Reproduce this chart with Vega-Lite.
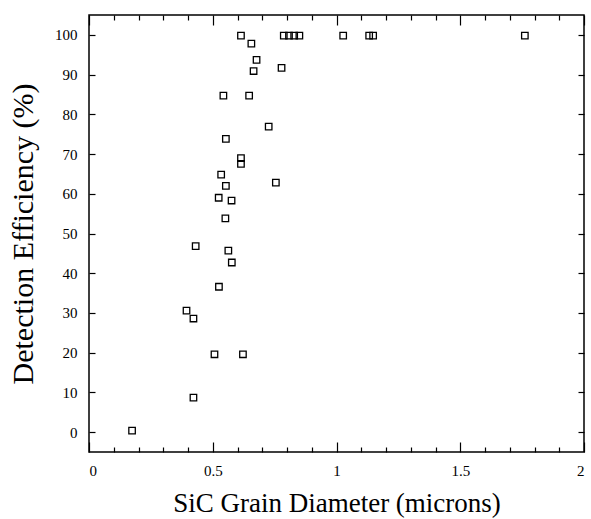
{
  "$schema": "https://vega.github.io/schema/vega-lite/v6.json",
  "width": 495,
  "height": 437,
  "autosize": {"type": "none"},
  "padding": {"left": 89, "top": 15, "right": 7, "bottom": 67},
  "config": {
    "view": {"stroke": "black", "strokeWidth": 1.5},
    "axis": {
      "grid": false,
      "domain": false,
      "labelFont": "Liberation Serif",
      "titleFont": "Liberation Serif",
      "labelColor": "black",
      "titleColor": "black",
      "tickColor": "black",
      "tickWidth": 1.2,
      "labelFontSize": 15,
      "titleFontWeight": "normal"
    }
  },
  "data": {
    "values": [
      {"d": 0.614, "eff": 99.8},
      {"d": 0.656, "eff": 97.8},
      {"d": 0.677, "eff": 93.7},
      {"d": 0.665, "eff": 90.9},
      {"d": 0.778, "eff": 91.7},
      {"d": 0.543, "eff": 84.7},
      {"d": 0.647, "eff": 84.7},
      {"d": 0.787, "eff": 99.8},
      {"d": 0.808, "eff": 99.8},
      {"d": 0.829, "eff": 99.8},
      {"d": 0.850, "eff": 99.8},
      {"d": 1.027, "eff": 99.8},
      {"d": 1.132, "eff": 99.8},
      {"d": 1.148, "eff": 99.8},
      {"d": 1.761, "eff": 99.8},
      {"d": 0.726, "eff": 76.9},
      {"d": 0.553, "eff": 73.8},
      {"d": 0.614, "eff": 69.0},
      {"d": 0.614, "eff": 67.5},
      {"d": 0.534, "eff": 64.8},
      {"d": 0.553, "eff": 62.0},
      {"d": 0.755, "eff": 62.8},
      {"d": 0.524, "eff": 59.0},
      {"d": 0.576, "eff": 58.3},
      {"d": 0.551, "eff": 53.8},
      {"d": 0.431, "eff": 46.8},
      {"d": 0.563, "eff": 45.7},
      {"d": 0.577, "eff": 42.7},
      {"d": 0.525, "eff": 36.6},
      {"d": 0.394, "eff": 30.6},
      {"d": 0.422, "eff": 28.6},
      {"d": 0.507, "eff": 19.6},
      {"d": 0.622, "eff": 19.6},
      {"d": 0.422, "eff": 8.7},
      {"d": 0.174, "eff": 0.4}
    ]
  },
  "layer": [
    {
      "mark": {"type": "point", "shape": "square", "filled": false, "size": 42, "stroke": "black", "strokeWidth": 1.3, "opacity": 1},
      "encoding": {
        "x": {
          "field": "d", "type": "quantitative",
          "scale": {"domain": [0, 2], "nice": false, "zero": false},
          "axis": {"orient": "bottom", "values": [0, 0.5, 1, 1.5, 2], "format": "~g", "offset": -10, "tickSize": 10, "labelPadding": 11, "title": "SiC Grain Diameter (microns)", "titleFontSize": 27, "titlePadding": 12}
        },
        "y": {
          "field": "eff", "type": "quantitative",
          "scale": {"domain": [-5, 105], "nice": false, "zero": false},
          "axis": {"orient": "left", "values": [0, 10, 20, 30, 40, 50, 60, 70, 80, 90, 100], "offset": -6, "tickSize": 6, "labelPadding": 12, "title": "Detection Efficiency (%)", "titleFontSize": 30, "titlePadding": 16}
        }
      }
    },
    {
      "mark": {"type": "point", "opacity": 0},
      "encoding": {
        "x": {
          "field": "d", "type": "quantitative",
          "scale": {"domain": [0, 2], "nice": false, "zero": false},
          "axis": {"orient": "bottom", "values": [0.1, 0.2, 0.3, 0.4, 0.6, 0.7, 0.8, 0.9, 1.1, 1.2, 1.3, 1.4, 1.6, 1.7, 1.8, 1.9], "offset": -5, "tickSize": 5, "labels": false, "title": null}
        },
        "y": {
          "field": "eff", "type": "quantitative",
          "scale": {"domain": [-5, 105], "nice": false, "zero": false},
          "axis": {"orient": "right", "values": [0, 10, 20, 30, 40, 50, 60, 70, 80, 90, 100], "offset": -6, "tickSize": 6, "labels": false, "title": null}
        }
      }
    },
    {
      "mark": {"type": "point", "opacity": 0},
      "encoding": {
        "x": {
          "field": "d", "type": "quantitative",
          "scale": {"domain": [0, 2], "nice": false, "zero": false},
          "axis": {"orient": "top", "values": [0, 0.5, 1, 1.5, 2], "offset": -10, "tickSize": 10, "labels": false, "title": null}
        }
      }
    },
    {
      "mark": {"type": "point", "opacity": 0},
      "encoding": {
        "x": {
          "field": "d", "type": "quantitative",
          "scale": {"domain": [0, 2], "nice": false, "zero": false},
          "axis": {"orient": "top", "values": [0.1, 0.2, 0.3, 0.4, 0.6, 0.7, 0.8, 0.9, 1.1, 1.2, 1.3, 1.4, 1.6, 1.7, 1.8, 1.9], "offset": -5, "tickSize": 5, "labels": false, "title": null}
        }
      }
    }
  ],
  "resolve": {"axis": {"x": "independent", "y": "independent"}}
}
